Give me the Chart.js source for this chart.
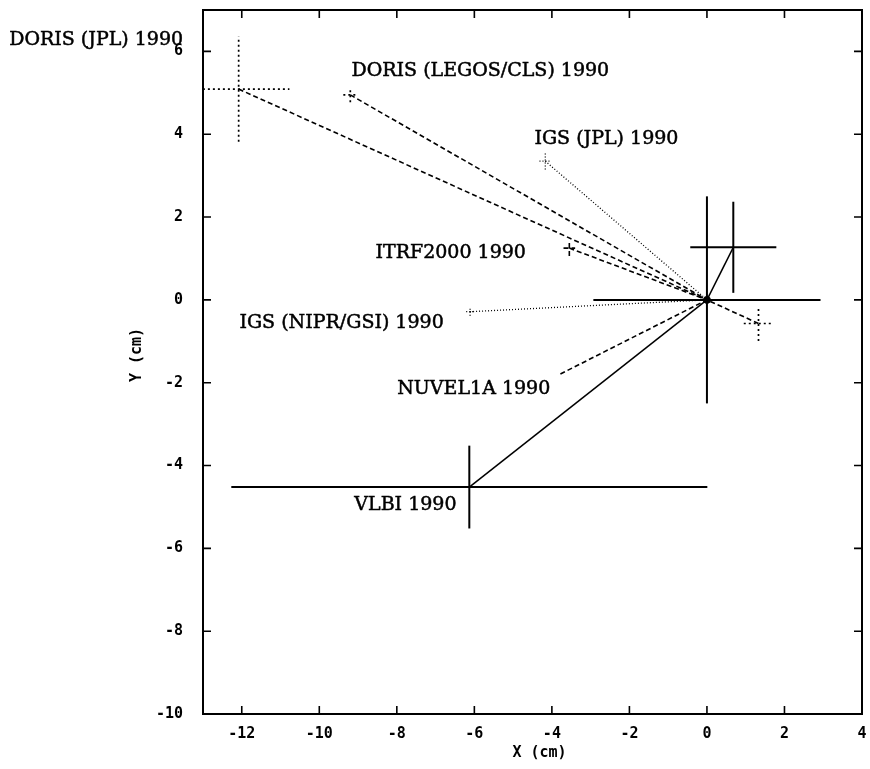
<!DOCTYPE html>
<html>
<head>
<meta charset="utf-8">
<script src="https://cdn.jsdelivr.net/npm/chart.js@4.4.1/dist/chart.umd.min.js"></script>
<style>
  html, body { margin: 0; padding: 0; background: #fff; }
  #wrap { width: 870px; height: 769px; }
</style>
</head>
<body>
<div id="wrap"><canvas id="chart"></canvas></div>
<script>
// station position solutions (cm), reference at origin
const solX    = [-12.08, -9.2, -4.17, -3.55, -6.11, -3.78, -6.13, 0.68, 1.33, 0];
const solY    = [5.09, 4.95, 3.35, 1.25, -0.285, -1.79, -4.52, 1.27, -0.57, 0];
const solErrX = [1.31, 0.18, 0.15, 0.15, 0.1, 0, 6.14, 1.11, 0.38, 2.93];
const solErrY = [1.27, 0.18, 0.2, 0.19, 0.1, 0, 1.0, 1.1, 0.42, 2.5];
const errStyle  = ['dot', 'dot', 'fine', 'dash', 'fine', 'none', 'solid', 'solid', 'dot', 'solid'];
const lineStyle = ['dash', 'dash', 'fine', 'dash', 'fine', 'dash', 'solid', 'solid', 'dash', 'none'];

// text labels (anchor in cm)
const labelText  = ['DORIS (JPL) 1990', 'DORIS (LEGOS/CLS) 1990', 'IGS (JPL) 1990', 'ITRF2000 1990',
                    'IGS (NIPR/GSI) 1990', 'NUVEL1A 1990', 'VLBI 1990'];
const labelX     = [-18.0, -9.17, -4.45, -8.55, -12.06, -7.99, -6.46];
const labelY     = [6.28, 5.53, 3.89, 1.13, -0.56, -2.15, -4.95];
const labelAlign = ['left', 'left', 'left', 'left', 'left', 'left', 'right'];

const xTicks = [-12, -10, -8, -6, -4, -2, 0, 2, 4];
const yTicks = [-10, -8, -6, -4, -2, 0, 2, 4, 6];
const xRange = [-13, 4];
const yRange = [-10, 7];

const dashes = { solid: [], dash: [5, 3], dot: [2, 3], fine: [1, 2] };
const widths = { solid: 2, dash: 1.6, dot: 1.7, fine: 1.3 };

function seg(data, style, w) {
  return {
    data: data,
    showLine: true,
    borderColor: '#000',
    borderWidth: w || widths[style],
    borderDash: dashes[style],
    pointRadius: 0,
    fill: false,
  };
}

const datasets = [];
for (let i = 0; i < solX.length; i++) {
  const x = solX[i], y = solY[i];
  if (lineStyle[i] !== 'none') {
    datasets.push(seg([{ x: x, y: y }, { x: 0, y: 0 }], lineStyle[i], lineStyle[i] === 'solid' ? 1.5 : null));
  }
  if (errStyle[i] !== 'none') {
    datasets.push(seg([{ x: x - solErrX[i], y: y }, { x: x + solErrX[i], y: y }], errStyle[i]));
    datasets.push(seg([{ x: x, y: y - solErrY[i] }, { x: x, y: y + solErrY[i] }], errStyle[i]));
  }
}
// reference point blob
datasets.push({ data: [{ x: 0, y: 0 }], pointRadius: 3.5, pointBackgroundColor: '#000', pointBorderColor: '#000', showLine: false });

const tickFont = { family: 'DejaVu Sans Mono', size: 15, weight: 'bold' };

const framePlugin = {
  id: 'frame',
  afterDraw(chart) {
    const { ctx, chartArea: a, scales } = chart;
    const sx = scales.x, sy = scales.y;
    ctx.save();
    ctx.strokeStyle = '#000';
    ctx.lineWidth = 2;
    ctx.setLineDash([]);
    ctx.strokeRect(a.left, a.top, a.right - a.left, a.bottom - a.top);

    // inward tick marks on all four sides
    ctx.lineWidth = 1.6;
    ctx.beginPath();
    xTicks.forEach(v => {
      const p = sx.getPixelForValue(v);
      ctx.moveTo(p, a.bottom); ctx.lineTo(p, a.bottom - 8);
      ctx.moveTo(p, a.top); ctx.lineTo(p, a.top + 8);
    });
    yTicks.forEach(v => {
      const p = sy.getPixelForValue(v);
      ctx.moveTo(a.left, p); ctx.lineTo(a.left + 8, p);
      ctx.moveTo(a.right, p); ctx.lineTo(a.right - 8, p);
    });
    ctx.stroke();

    // axis titles
    ctx.fillStyle = '#000';
    ctx.font = 'bold 15px "DejaVu Sans Mono"';
    ctx.textAlign = 'center';
    ctx.textBaseline = 'middle';
    ctx.fillText('X (cm)', (a.left + a.right) / 2 + 7, a.bottom + 39);
    ctx.save();
    ctx.translate(a.left - 66, (a.top + a.bottom) / 2 - 7);
    ctx.rotate(-Math.PI / 2);
    ctx.fillText('Y (cm)', 0, 0);
    ctx.restore();

    // solution labels
    ctx.font = '19px "DejaVu Serif"';
    ctx.lineWidth = 0.5;
    labelText.forEach((t, i) => {
      ctx.textAlign = labelAlign[i];
      const px = sx.getPixelForValue(labelX[i]), py = sy.getPixelForValue(labelY[i]);
      ctx.fillText(t, px, py);
      ctx.strokeText(t, px, py);
    });
    ctx.restore();
  }
};

new Chart(document.getElementById('chart'), {
  type: 'scatter',
  data: { datasets: datasets },
  options: {
    responsive: true,
    maintainAspectRatio: false,
    animation: false,
    layout: { padding: { top: 10, right: 8, left: 0, bottom: 0 } },
    plugins: { legend: { display: false }, tooltip: { enabled: false } },
    scales: {
      x: {
        type: 'linear',
        min: xRange[0], max: xRange[1],
        afterBuildTicks: axis => { axis.ticks = xTicks.map(v => ({ value: v })); },
        afterFit: axis => { axis.height = 55; axis.paddingLeft = 0; axis.paddingRight = 0; },
        grid: { display: false, drawTicks: false },
        border: { display: false },
        ticks: { font: tickFont, color: '#000', padding: 11, maxRotation: 0, autoSkip: false },
      },
      y: {
        type: 'linear',
        min: yRange[0], max: yRange[1],
        afterBuildTicks: axis => { axis.ticks = yTicks.map(v => ({ value: v })); },
        afterFit: axis => { axis.width = 203; axis.paddingTop = 0; axis.paddingBottom = 0; },
        grid: { display: false, drawTicks: false },
        border: { display: false },
        ticks: { font: tickFont, color: '#000', padding: 20, autoSkip: false },
      }
    }
  },
  plugins: [framePlugin]
});
</script>
</body>
</html>
